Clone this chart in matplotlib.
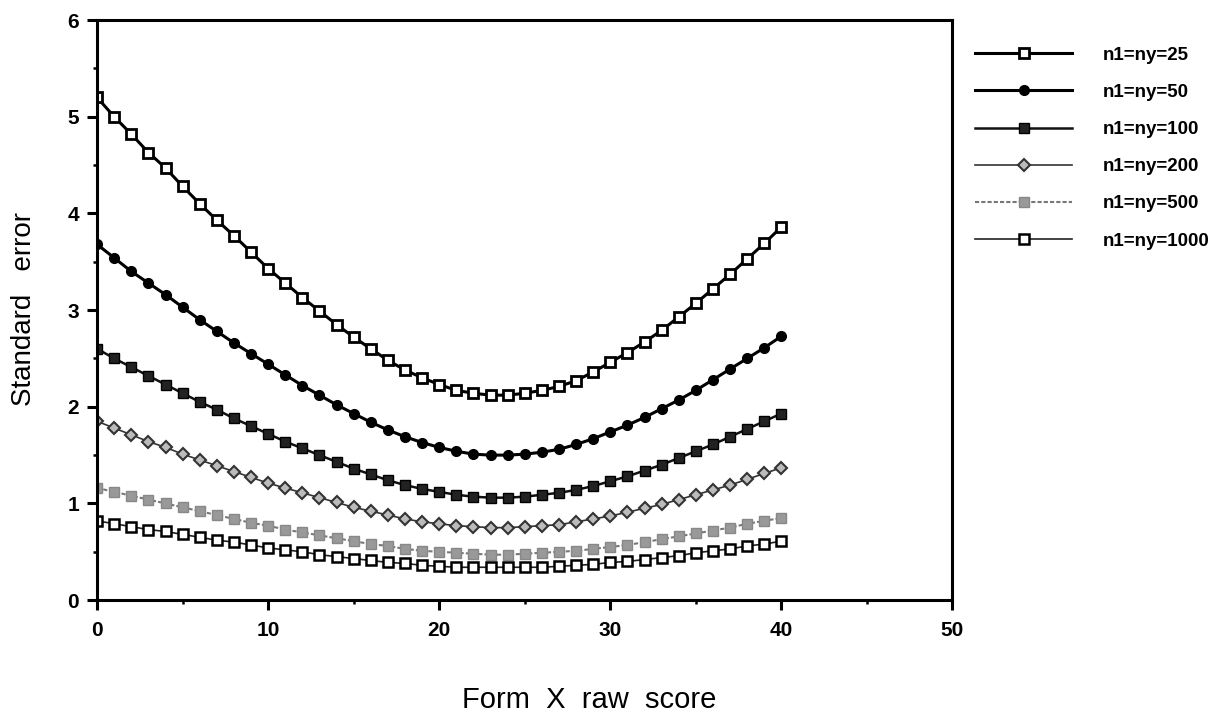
import numpy as np
import matplotlib.pyplot as plt

plt.rcParams['font.family'] = ['Liberation Sans', 'DejaVu Sans']

# raw score points
score = list(range(0, 41))

# standard errors, one list per sample size
se_25 = [5.20, 5.00, 4.82, 4.63, 4.47, 4.28, 4.10, 3.93, 3.77, 3.60, 3.43,
         3.28, 3.13, 2.99, 2.85, 2.72, 2.60, 2.48, 2.38, 2.30, 2.23,
         2.17, 2.14, 2.12, 2.12, 2.14, 2.17, 2.21, 2.27, 2.36, 2.46,
         2.56, 2.67, 2.79, 2.93, 3.07, 3.22, 3.37, 3.53, 3.69, 3.86]
se_50 = [3.68, 3.54, 3.40, 3.28, 3.16, 3.03, 2.90, 2.78, 2.66, 2.55, 2.44,
         2.33, 2.22, 2.12, 2.02, 1.93, 1.84, 1.76, 1.69, 1.63, 1.58,
         1.54, 1.51, 1.50, 1.50, 1.51, 1.53, 1.56, 1.61, 1.67, 1.74,
         1.81, 1.89, 1.98, 2.07, 2.17, 2.28, 2.39, 2.50, 2.61, 2.73]
se_100 = [2.60, 2.50, 2.41, 2.32, 2.23, 2.14, 2.05, 1.97, 1.88, 1.80, 1.72,
          1.64, 1.57, 1.50, 1.43, 1.36, 1.30, 1.24, 1.19, 1.15, 1.12,
          1.09, 1.07, 1.06, 1.06, 1.07, 1.09, 1.11, 1.14, 1.18, 1.23,
          1.28, 1.34, 1.40, 1.47, 1.54, 1.61, 1.69, 1.77, 1.85, 1.93]
se_200 = [1.85, 1.78, 1.71, 1.64, 1.58, 1.51, 1.45, 1.39, 1.33, 1.27, 1.21,
          1.16, 1.11, 1.06, 1.01, 0.96, 0.92, 0.88, 0.84, 0.81, 0.79,
          0.77, 0.76, 0.75, 0.75, 0.76, 0.77, 0.78, 0.81, 0.84, 0.87,
          0.91, 0.95, 0.99, 1.04, 1.09, 1.14, 1.19, 1.25, 1.31, 1.37]
se_500 = [1.16, 1.12, 1.08, 1.04, 1.00, 0.96, 0.92, 0.88, 0.84, 0.80, 0.77,
          0.73, 0.70, 0.67, 0.64, 0.61, 0.58, 0.56, 0.53, 0.51, 0.50,
          0.49, 0.48, 0.47, 0.47, 0.48, 0.49, 0.50, 0.51, 0.53, 0.55,
          0.57, 0.60, 0.63, 0.66, 0.69, 0.72, 0.75, 0.79, 0.82, 0.85]
se_1000 = [0.82, 0.79, 0.76, 0.73, 0.71, 0.68, 0.65, 0.62, 0.60, 0.57, 0.54,
           0.52, 0.50, 0.47, 0.45, 0.43, 0.41, 0.39, 0.38, 0.36, 0.35,
           0.34, 0.34, 0.34, 0.34, 0.34, 0.34, 0.35, 0.36, 0.37, 0.39,
           0.40, 0.42, 0.44, 0.46, 0.49, 0.51, 0.53, 0.56, 0.58, 0.61]

labels = ['n1=ny=25', 'n1=ny=50', 'n1=ny=100', 'n1=ny=200', 'n1=ny=500', 'n1=ny=1000']

fig = plt.figure(figsize=(12.29, 7.17), dpi=100)
ax = fig.add_axes([0.079, 0.163, 0.696, 0.809])

ax.plot(score, se_25, color='black', lw=2.2, marker='s', ms=6.5,
        mfc='white', mec='black', mew=2.0, label=labels[0])
ax.plot(score, se_50, color='black', lw=2.2, marker='o', ms=7,
        mfc='black', mec='black', label=labels[1])
ax.plot(score, se_100, color='#111111', lw=1.8, marker='s', ms=6.5,
        mfc='#222222', mec='black', label=labels[2])
ax.plot(score, se_200, color='#333333', lw=1.2, marker='D', ms=6.5,
        mfc='#bbbbbb', mec='#333333', mew=1.5, label=labels[3])
ax.plot(score, se_500, color='#777777', lw=1.5, ls=(0, (2, 1)), marker='s', ms=6.5,
        mfc='#999999', mec='#888888', mew=1.0, label=labels[4])
ax.plot(score, se_1000, color='#222222', lw=1.2, marker='s', ms=6.5,
        mfc='white', mec='black', mew=1.8, label=labels[5])

ax.set_xlim(0, 50)
ax.set_ylim(0, 6)
ax.set_xticks(range(0, 51, 10))
ax.set_xticks(range(5, 50, 10), minor=True)
ax.set_yticks(range(0, 7))
ax.set_yticks(np.arange(0.5, 6, 1.0), minor=True)
for s in ax.spines.values():
    s.set_linewidth(2.2)
ax.tick_params(axis='both', which='major', direction='out', length=7, width=2.2,
               labelsize=15)
ax.tick_params(axis='x', which='major', pad=8)
ax.tick_params(axis='y', which='major', pad=6)
ax.tick_params(axis='both', which='minor', direction='out', length=3, width=1.8)
for t in ax.get_xticklabels() + ax.get_yticklabels():
    t.set_fontweight('bold')

fig.text(0.0195, 0.569, 'Standard   error', fontsize=20, rotation=90,
         ha='center', va='center')
fig.text(0.479, 0.024, 'Form  X  raw  score', fontsize=21, ha='center', va='center')

fig.legend(loc='upper left', bbox_to_anchor=(0.7933, 0.935), frameon=False,
           prop={'size': 13.5, 'weight': 'bold'}, handlelength=5.2,
           handletextpad=1.6, labelspacing=1.07, borderpad=0, borderaxespad=0)

plt.savefig('out.png', dpi=100)
